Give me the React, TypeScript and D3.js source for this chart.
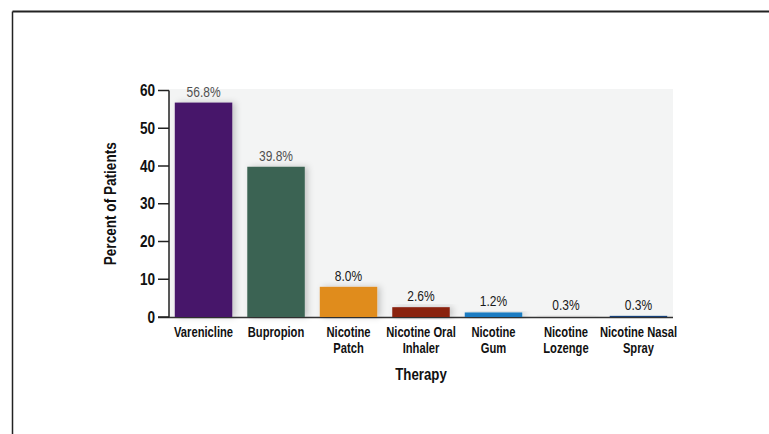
import React from "react";
import * as d3 from "d3";

const therapies = [
  ["Varenicline"],
  ["Bupropion"],
  ["Nicotine", "Patch"],
  ["Nicotine Oral", "Inhaler"],
  ["Nicotine", "Gum"],
  ["Nicotine", "Lozenge"],
  ["Nicotine Nasal", "Spray"],
];
const percents = [56.8, 39.8, 8.0, 2.6, 1.2, 0.3, 0.3];
const barColors = ["#47176a", "#3a6352", "#e08c1e", "#8a2210", "#1a7cc2", "#c2c2c2", "#16407a"];
const yTicks = [0, 10, 20, 30, 40, 50, 60];

const W = 769;
const H = 434;
const plot = { left: 169, right: 673, top: 90.5, bottom: 317 };
const FONT = "'Liberation Sans', Arial, sans-serif";

// Horizontally condensed text, positioned at (x, y)
function CText({
  x,
  y,
  sx = 0.8,
  rotate = 0,
  children,
  ...rest
}: {
  x: number;
  y: number;
  sx?: number;
  rotate?: number;
  children: React.ReactNode;
  [k: string]: any;
}) {
  return (
    <text transform={`translate(${x},${y}) rotate(${rotate}) scale(${sx},1)`} {...rest}>
      {children}
    </text>
  );
}

export default function App() {
  const ids = therapies.map((_, i) => String(i));
  const x = d3
    .scaleBand<string>()
    .domain(ids)
    .range([plot.left, plot.right])
    .paddingInner(0.207)
    .paddingOuter(0.08);
  const y = d3.scaleLinear().domain([0, 60]).range([plot.bottom, plot.top]);
  const cx = (i: number) => (x(ids[i]) as number) + x.bandwidth() / 2;

  return (
    <svg
      width={W}
      height={H}
      style={{ position: "absolute", left: 0, top: 0, background: "#fff" }}
      fontFamily={FONT}
    >
      <defs>
        <filter id="barShadow" x="-30%" y="-30%" width="160%" height="160%">
          <feDropShadow dx="3" dy="0" stdDeviation="3" floodColor="#000" floodOpacity="0.2" />
        </filter>
      </defs>

      {/* frame */}
      <line x1={12.5} x2={W} y1={11.5} y2={11.5} stroke="#222" strokeWidth={2} />
      <line x1={12.5} x2={12.5} y1={11.5} y2={H} stroke="#222" strokeWidth={1.5} />

      {/* plot background */}
      <rect x={plot.left} y={89} width={plot.right - plot.left} height={plot.bottom - 89} fill="#f3f4f4" />

      {/* baseline */}
      <line x1={158} x2={plot.right} y1={plot.bottom + 0.5} y2={plot.bottom + 0.5} stroke="#333" strokeWidth={1.5} />

      {/* bars */}
      {percents.map((v, i) => (
        <rect
          key={i}
          x={x(ids[i])}
          y={y(v)}
          width={x.bandwidth()}
          height={y(0) - y(v)}
          fill={barColors[i]}
          filter="url(#barShadow)"
        />
      ))}

      {/* value labels */}
      {percents.map((v, i) => (
        <CText
          key={i}
          x={cx(i)}
          y={y(v) - 6}
          sx={0.8}
          textAnchor="middle"
          fontSize={15}
          fill={i < 2 ? "#505050" : "#1a1a1a"}
          fontWeight={i < 2 ? 400 : 500}
        >
          {v.toFixed(1)}%
        </CText>
      ))}

      {/* y axis */}
      <line x1={plot.left} x2={plot.left} y1={plot.top} y2={plot.bottom} stroke="#222" strokeWidth={1.5} />
      {yTicks.map((t) => (
        <g key={t}>
          <line x1={158} x2={plot.left} y1={y(t)} y2={y(t)} stroke="#222" strokeWidth={1.5} />
          <CText x={155} y={y(t) + 5.5} sx={0.85} textAnchor="end" fontSize={16} fontWeight={700} fill="#111">
            {t}
          </CText>
        </g>
      ))}

      {/* category labels, one text per line */}
      {therapies.map((lines, i) =>
        lines.map((l, j) => (
          <CText
            key={`${i}-${j}`}
            x={cx(i)}
            y={337 + j * 15.7}
            sx={0.8}
            textAnchor="middle"
            fontSize={14}
            fontWeight={700}
            fill="#111"
          >
            {l}
          </CText>
        ))
      )}

      {/* axis titles */}
      <CText x={(plot.left + plot.right) / 2} y={380} sx={0.78} textAnchor="middle" fontSize={17} fontWeight={700} fill="#111">
        Therapy
      </CText>
      <CText
        x={116}
        y={(plot.top + plot.bottom) / 2}
        rotate={-90}
        sx={0.8}
        textAnchor="middle"
        fontSize={17}
        fontWeight={700}
        fill="#111"
      >
        Percent of Patients
      </CText>
    </svg>
  );
}
